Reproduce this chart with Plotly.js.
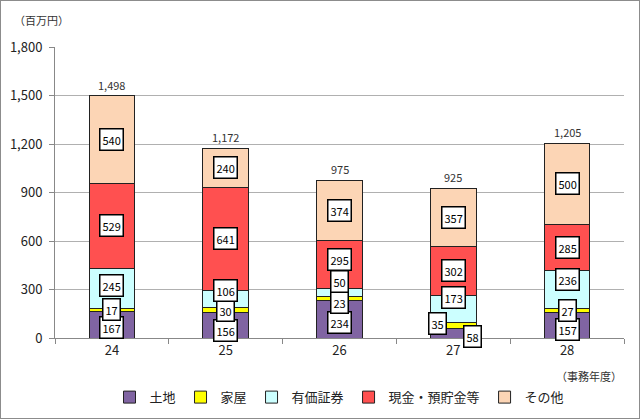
<!DOCTYPE html>
<html><head><meta charset="utf-8">
<script src="https://cdn.plot.ly/plotly-3.0.1.min.js"></script>
<style>
html,body{margin:0;padding:0;background:#fff;}
#wrap{width:638px;height:417px;border:1px solid #8c8c8c;}
</style></head>
<body><div id="wrap"><div id="chart"></div></div>
<script>
const categories = ['24', '25', '26', '27', '28'];
const seriesNames = ['土地', '家屋', '有価証券', '現金・預貯金等', 'その他'];
const land = [167, 156, 234, 58, 157];
const house = [17, 30, 23, 35, 27];
const securities = [245, 106, 50, 173, 236];
const cash = [529, 641, 295, 302, 285];
const other = [540, 240, 374, 357, 500];
const totals = [1498, 1172, 975, 925, 1205];
const yTicks = [0, 300, 600, 900, 1200, 1500, 1800];

const series = [land, house, securities, cash, other];
const colors = ['#8064A2', '#FFFF00', '#CCFFFF', '#FF5050', '#FCD5B5'];
const FONT = '"Noto Sans CJK JP", "DejaVu Sans", sans-serif';

const traces = series.map((vals, i) => ({
  type: 'bar', x: categories, y: vals, name: seriesNames[i],
  marker: {color: colors[i], line: {color: '#222', width: 1}},
  width: 0.4, hoverinfo: 'none'
}));

// label nudges (pixels) for readability, keyed "series,category index"
const nudge = {
  '0,0': [0, -3], '2,0': [0, 3],
  '0,1': [0, -5], '2,1': [0, 9],
  '0,2': [0, -3], '1,2': [0, -4], '2,2': [0, 11], '3,2': [0, 5],
  '0,3': [19, -3], '1,3': [-16, 2], '2,3': [0, 11],
  '0,4': [0, -4], '2,4': [0, 10]
};

const annotations = [];
categories.forEach((c, j) => {
  let base = 0;
  series.forEach((vals, i) => {
    const v = vals[j];
    const n = nudge[i + ',' + j] || [0, 0];
    annotations.push({x: j, y: base + v / 2, text: String(v), showarrow: false,
      xshift: n[0], yshift: n[1],
      font: {family: FONT, size: 11, color: '#000'},
      bgcolor: '#fff', bordercolor: '#000', borderwidth: 1.5, borderpad: 2});
    base += v;
  });
  annotations.push({x: j, y: base, text: totals[j].toLocaleString('en-US'), showarrow: false,
    yanchor: 'bottom', yshift: 1, font: {family: FONT, size: 11, color: '#333'}});
});
annotations.push({xref: 'paper', yref: 'paper', x: -0.075, y: 1.06, xanchor: 'left', yanchor: 'bottom',
  text: '（百万円）', showarrow: false, font: {family: FONT, size: 11, color: '#333'}});
annotations.push({xref: 'paper', yref: 'paper', x: 1.0, y: -0.13, xanchor: 'right', yanchor: 'middle',
  text: '（事務年度）', showarrow: false, font: {family: FONT, size: 11, color: '#333'}});

const layout = {
  width: 638, height: 417,
  margin: {l: 54, r: 15, t: 46, b: 80},
  paper_bgcolor: '#fff', plot_bgcolor: '#fff',
  barmode: 'stack', bargap: 0.6,
  showlegend: true,
  legend: {orientation: 'h', x: 0.5, xanchor: 'center', yref: 'container', y: 0.05, yanchor: 'middle',
    font: {family: FONT, size: 13, color: '#222'}, traceorder: 'normal', itemwidth: 30},
  xaxis: {type: 'category', range: [-0.5, 4.5], tickson: 'boundaries', ticks: 'outside', ticklen: 5, tickcolor: '#888',
    showline: true, linecolor: '#888', linewidth: 1, tickangle: 0,
    tickfont: {family: FONT, size: 13, color: '#222'}},
  yaxis: {range: [0, 1800], tickvals: yTicks, ticktext: yTicks.map(v => v.toLocaleString('en-US')),
    ticks: 'outside', ticklen: 5, tickcolor: '#888', showline: true, linecolor: '#888', linewidth: 1,
    gridcolor: '#b0b0b0', gridwidth: 1, zeroline: false, ticklabelstandoff: 4,
    tickfont: {family: FONT, size: 13, color: '#222'}},
  annotations: annotations
};
Plotly.newPlot('chart', traces, layout, {displayModeBar: false, staticPlot: true});
</script></body></html>
